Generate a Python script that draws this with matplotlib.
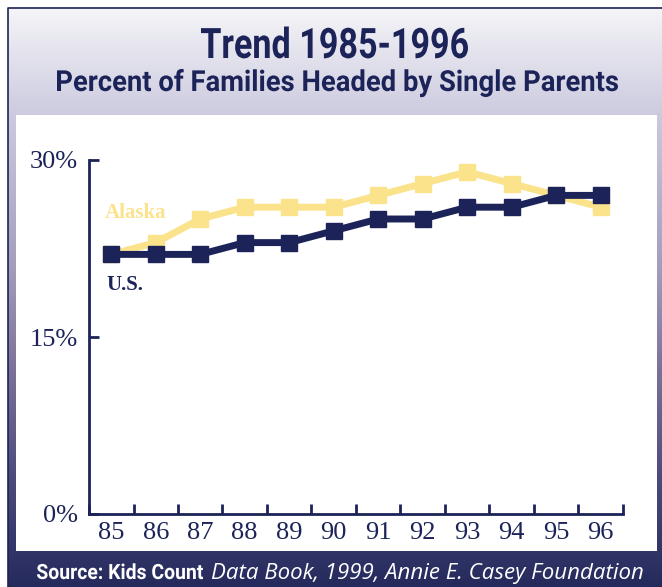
import numpy as np
import matplotlib.pyplot as plt
from matplotlib.colors import LinearSegmentedColormap
from matplotlib.patches import Rectangle, PathPatch
from matplotlib.textpath import TextPath
from matplotlib.font_manager import FontProperties
from matplotlib.transforms import Affine2D

# data
years = ["85", "86", "87", "88", "89", "90", "91", "92", "93", "94", "95", "96"]
alaska = [22, 23, 25, 26, 26, 26, 27, 28, 29, 28, 27, 26]
us = [22, 22, 22, 23, 23, 24, 25, 25, 26, 26, 27, 27]
y_ticks = [0, 15, 30]
y_tick_labels = ["0%", "15%", "30%"]

NAVY = "#1c2358"
GOLD = "#fbe38c"
W, H = 662, 587


def condensed_text(ax, left, right, baseline, s, size, color):
    """Draw bold sans text squeezed to span [left, right] pixels (no condensed font installed)."""
    prop = FontProperties(family="Roboto", weight="bold")
    tp = TextPath((0, 0), s, size=size, prop=prop)
    ext = tp.get_extents()
    sx = (right - left) / ext.width
    tr = Affine2D().translate(-ext.x0, 0).scale(sx, -1).translate(left, baseline)
    ax.add_patch(PathPatch(tr.transform_path(tp), facecolor=color, edgecolor="none", zorder=3))


fig = plt.figure(figsize=(W / 100, H / 100), dpi=100)

# background in pixel coordinates
bg = fig.add_axes([0, 0, 1, 1])
bg.set_xlim(0, W)
bg.set_ylim(H, 0)
bg.axis("off")

grad_cmap = LinearSegmentedColormap.from_list(
    "frame",
    [
        (0.0, "#f5f5f8"),
        (0.2, "#c9c7dd"),
        (0.45, "#a39dbb"),
        (0.62, "#7d7399"),
        (0.8, "#504d7e"),
        (1.0, "#252a5c"),
    ],
)
grad = np.linspace(0, 1, 256).reshape(-1, 1)
bg.imshow(grad, cmap=grad_cmap, aspect="auto", extent=(8, W, H, 7), zorder=0)
bg.plot([8, 8, W], [H, 7.5, 7.5], color=NAVY, lw=1.2, zorder=1)
bg.add_patch(Rectangle((16, 115), 641, 436, facecolor="white", edgecolor="none", zorder=2))

condensed_text(bg, 201, 468, 58, "Trend 1985-1996", 42, NAVY)
condensed_text(bg, 57, 618, 91, "Percent of Families Headed by Single Parents", 29, NAVY)
condensed_text(bg, 37, 203, 579, "Source: Kids Count", 21, "white")
bg.text(211, 579, "Data Book, 1999, Annie E. Casey Foundation", ha="left", va="baseline",
        color="white", fontsize=16, style="italic", family="Open Sans", zorder=3)

# chart
ax = fig.add_axes([89 / W, (H - 514) / H, (623 - 89) / W, (514 - 160) / H])
ax.patch.set_alpha(0)
x = np.arange(len(years))
ax.plot(x, alaska, color=GOLD, lw=5, marker="s", ms=11.5, mec=GOLD, mfc=GOLD,
        solid_joinstyle="miter", zorder=3)
ax.plot(x, us, color=NAVY, lw=5, marker="s", ms=11.5, mec=NAVY, mfc=NAVY,
        solid_joinstyle="miter", zorder=4)

ax.set_xlim(-0.5, len(years) - 0.5)
ax.set_ylim(0, 30)
for side in ["top", "right"]:
    ax.spines[side].set_visible(False)
for side in ["left", "bottom"]:
    ax.spines[side].set_color(NAVY)
    ax.spines[side].set_linewidth(2)
    ax.spines[side].set_capstyle("projecting")

ax.set_yticks(y_ticks)
ax.set_yticklabels(y_tick_labels, family="Liberation Serif", fontsize=19, color=NAVY)
ax.tick_params(axis="y", direction="in", length=7, width=2, color=NAVY, pad=8)

ax.set_xticks(x)
ax.set_xticklabels(years, family="Liberation Serif", fontsize=19, color=NAVY)
ax.set_xticks(np.arange(-0.5, len(years)), minor=True)
ax.tick_params(axis="x", which="major", length=0, pad=6)
ax.tick_params(axis="x", which="minor", direction="in", length=7, width=2, color=NAVY)

ax.text(-0.14, 25.1, "Alaska", color=GOLD, fontsize=15, fontweight="bold",
        family="Liberation Serif", va="baseline")
ax.text(-0.1, 19.0, "U.S.", color=NAVY, fontsize=15, fontweight="bold",
        family="Liberation Serif", va="baseline")

fig.savefig("out.png", dpi=100)
